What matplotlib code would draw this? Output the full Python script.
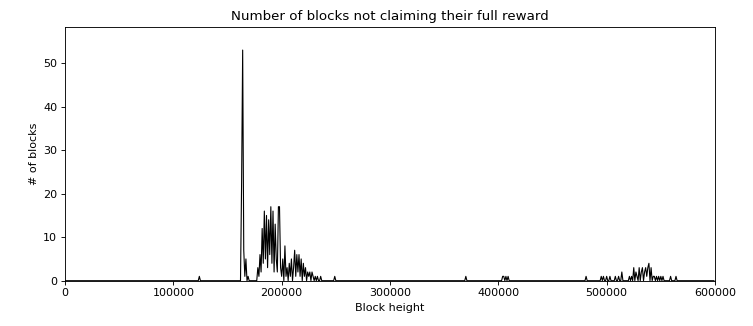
import numpy as np
import matplotlib
matplotlib.use("Agg")
import matplotlib.pyplot as plt

# Bin width (blocks) and nonzero bins: bin index (thousands of blocks) -> count
bin_width = 1000
n_bins = 600
bin_index = [124,
             163, 164, 165, 166, 167, 169,
             178, 179, 180, 181, 182, 183, 184, 185, 186, 187, 188, 189, 190,
             191, 192, 193, 194, 195, 196, 197, 198, 199, 200, 201, 203,
             204, 205, 207, 208, 209, 211, 212, 213, 214, 215, 216,
             217, 218, 220, 221, 222, 224, 225, 226, 228, 229, 231, 233,
             236, 249,
             370, 404, 405, 407, 409,
             481, 495, 497, 500, 503, 508, 511, 514, 521, 523,
             525, 527, 528, 530, 532, 533, 535, 536,
             537, 538, 539, 541, 543, 544, 546, 548, 550, 552,
             559, 564]
bin_count = [1,
             22, 53, 7, 1, 5, 1,
             3, 1, 6, 2, 12, 4, 16, 5, 15, 3, 14, 6, 17,
             4, 16, 2, 13, 5, 2, 17, 17, 3, 1, 5, 8,
             1, 3, 4, 1, 5, 3, 7, 1, 6, 2, 6,
             1, 5, 4, 1, 3, 2, 1, 2, 2, 1, 1, 1,
             1, 1,
             1, 1, 1, 1, 1,
             1, 1, 1, 1, 1, 1, 1, 2, 1, 1,
             3, 2, 1, 3, 2, 3, 2, 3,
             1, 3, 4, 3, 1, 1, 1, 1, 1, 1,
             1, 1]

counts = np.zeros(n_bins)
counts[np.array(bin_index)] = bin_count
heights = np.arange(n_bins) * bin_width

fig = plt.figure(figsize=(753 / 80, 326 / 80), dpi=80)
ax = fig.add_axes([65 / 753, 1 - 280.7 / 326, (715 - 65) / 753, (280.7 - 27) / 326])
ax.plot(heights, counts, color="black", linewidth=1)
ax.set_xlim(0, 600000)
ax.set_ylim(0, max(bin_count) * 1.1)
ax.set_xticks(np.arange(0, 600001, 100000))
ax.set_yticks(np.arange(0, 51, 10))
ax.set_title("Number of blocks not claiming their full reward")
ax.set_xlabel("Block height")
ax.set_ylabel("# of blocks")
fig.savefig("out.png", dpi=80)
